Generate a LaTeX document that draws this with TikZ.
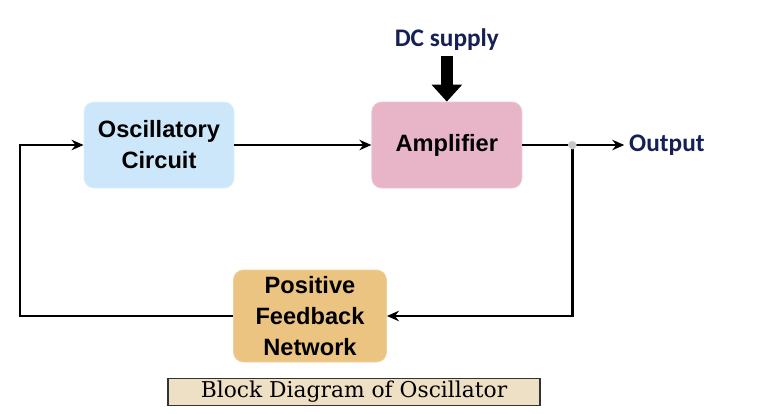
\documentclass[tikz,border=0pt]{standalone}
\usepackage{fontspec}
\setmainfont{Liberation Sans}
\newfontfamily\calfont{Carlito}
\newfontfamily\capfont{DejaVu Serif}
\usepackage{tikz}
\usetikzlibrary{positioning,arrows.meta,calc}
\definecolor{oscblue}{RGB}{205,231,250}
\definecolor{amppink}{RGB}{232,181,200}
\definecolor{fborange}{RGB}{236,196,130}
\definecolor{capbeige}{RGB}{238,224,196}
\definecolor{navytext}{RGB}{22,32,84}

\begin{document}
\begin{tikzpicture}[
    block/.style={draw, rounded corners=0.25cm, minimum height=2.15cm, minimum width=3.75cm, align=center, font=\fontsize{16.8}{22}\selectfont\bfseries, line width=0.6pt},
    arrow/.style={-{Stealth[length=3mm, width=2.6mm]}, line width=1.8pt},
    label/.style={font=\calfont\fontsize{18}{21}\selectfont\bfseries, text=navytext},
    node distance=0.4cm
]
\useasboundingbox (0,0) rectangle (19.375,-10.325);
% Blocks
\node[block, fill=oscblue, draw=oscblue!70!white] (osc) at (3.975,-3.625) {Oscillatory\\Circuit};
\node[block, right=3.425cm of osc, fill=amppink, draw=amppink!80!white] (amp) {Amplifier};
\node[block, fill=fborange, draw=fborange!80!white, minimum width=3.825cm, minimum height=2.3cm] (fb) at (7.75,-7.9) {Positive\\Feedback\\Network};
\node[label, above=1.15cm of amp] (dc) {DC supply};
\node[label, right=2.55cm of amp] (out) {Output};
\node[draw=black!80, line width=1pt, fill=capbeige, minimum width=9.3cm, minimum height=0.675cm, inner sep=0pt, font=\capfont\fontsize{15.5}{17}\selectfont] (cap) at (8.85,-9.8) {Block Diagram of Oscillator};

% Junctions
\coordinate (jn) at ($(amp.east)+(1.25,0)$);
\coordinate (lc) at (0.5,-3.625);

% Arrows
\draw[-{Triangle[length=12pt, width=21pt]}, line width=9pt] (dc) -- (amp);
\draw[arrow] (osc) -- (amp);
\draw[arrow] (amp) -- (out);
\draw[arrow] (jn) |- (fb);
\draw[arrow] (fb) -| (lc) -- (osc);
\fill[gray!45, draw=gray!30] (jn) circle (0.1cm);
\end{tikzpicture}
\end{document}
